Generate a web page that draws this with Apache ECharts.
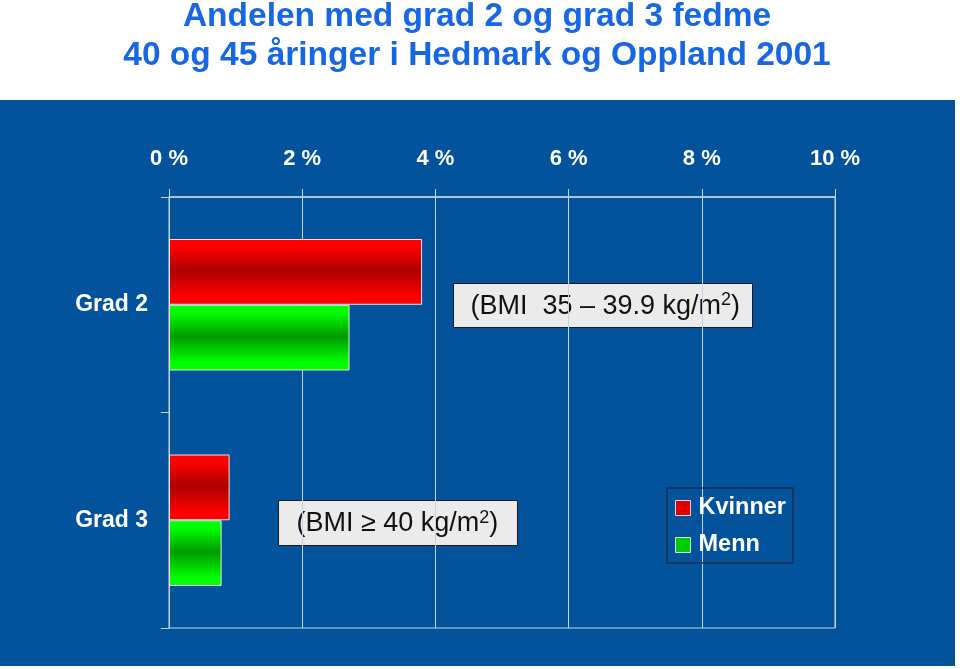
<!DOCTYPE html>
<html>
<head>
<meta charset="utf-8">
<script src="https://cdn.jsdelivr.net/npm/echarts@6/dist/echarts.min.js"></script>
<style>html,body{margin:0;padding:0;background:#fff}#c{width:960px;height:669px}</style>
</head>
<body>
<div id="c"></div>
<script>
var titleLines = ['Andelen med grad 2 og grad 3 fedme', '40 og 45 åringer i Hedmark og Oppland 2001'];
var categories = ['Grad 2', 'Grad 3'];
var seriesNames = ['Kvinner', 'Menn'];
var kvinner = [3.80, 0.91];
var menn = [2.71, 0.79];
var xMin = 0, xMax = 10, xStep = 2;
var note1 = ['(BMI  35 – 39.9 kg/m', '2', ')'];
var note2 = ['(BMI ≥ 40 kg/m', '2', ')'];

var FONT = '"Liberation Sans", Arial, Helvetica, sans-serif';
var LINE = '#c4d4e6';

function grad(edge, mid) {
  return new echarts.graphic.LinearGradient(0, 0, 0, 1, [
    {offset: 0, color: edge}, {offset: 0.12, color: edge},
    {offset: 0.48, color: mid},
    {offset: 0.88, color: edge}, {offset: 1, color: edge}
  ]);
}

function noteBox(x, y, w, h, parts, tx) {
  return {
    type: 'group', left: x, top: y, z: 50,
    children: [
      {type: 'rect', shape: {x: 0, y: 0, width: w, height: h},
       style: {fill: '#ebebeb', stroke: '#1a1a1a', lineWidth: 1}},
      {type: 'text', x: tx, y: h / 2 + 1,
       style: {
         text: '{a|' + parts[0] + '}{s|' + parts[1] + '}{a|' + parts[2] + '}',
         textVerticalAlign: 'middle', textAlign: 'left',
         rich: {
           a: {fontFamily: FONT, fontSize: 27, lineHeight: 30, fill: '#111', color: '#111'},
           s: {fontFamily: FONT, fontSize: 18, lineHeight: 12, verticalAlign: 'top', fill: '#111', color: '#111'}
         }
       }}
    ]
  };
}

var chart = echarts.init(document.getElementById('c'), null, {renderer: 'canvas'});
chart.setOption({
  animation: false,
  backgroundColor: '#ffffff',
  title: {
    text: titleLines.join('\n'),
    left: 477, top: -3, padding: 0, textAlign: 'center',
    textStyle: {fontFamily: FONT, fontSize: 33.5, fontWeight: 'bold', color: '#1766e4', lineHeight: 39}
  },
  graphic: [
    {type: 'rect', left: 0, top: 100, z: -10, silent: true,
     shape: {width: 955, height: 566}, style: {fill: '#03539c'}},
    noteBox(453, 283, 299, 44, note1, 17),
    noteBox(278, 500, 239, 45, note2, 18)
  ],
  legend: {
    orient: 'vertical', left: 667, top: 488,
    padding: [8, 7, 6, 8], itemGap: 13,
    itemWidth: 15, itemHeight: 15, icon: 'rect',
    borderColor: '#1c2c52', borderWidth: 1.5,
    textStyle: {fontFamily: FONT, fontSize: 23.5, fontWeight: 'bold', color: '#ffffff', padding: [0, 0, 0, 3]},
    data: [
      {name: seriesNames[0], itemStyle: {color: '#e00000', borderColor: '#dddddd', borderWidth: 1}},
      {name: seriesNames[1], itemStyle: {color: '#00cc00', borderColor: '#dddddd', borderWidth: 1}}
    ]
  },
  grid: {left: 169, right: 125, top: 197, bottom: 41, show: true, borderColor: LINE, borderWidth: 1, backgroundColor: 'transparent'},
  xAxis: {
    type: 'value', position: 'top', min: xMin, max: xMax, interval: xStep,
    axisLine: {show: true, lineStyle: {color: LINE, width: 1.5}},
    axisTick: {show: true, length: 8, lineStyle: {color: LINE}},
    splitLine: {show: true, lineStyle: {color: LINE, width: 1}},
    axisLabel: {formatter: '{value} %', margin: 27, fontFamily: FONT, fontSize: 22, fontWeight: 'bold', color: '#ffffff'}
  },
  yAxis: {
    type: 'category', inverse: true, data: categories,
    axisLine: {show: true, lineStyle: {color: LINE, width: 1}},
    axisTick: {show: true, length: 8, lineStyle: {color: LINE}},
    axisLabel: {margin: 21, fontFamily: FONT, fontSize: 23, fontWeight: 'bold', color: '#ffffff', padding: [4, 0, 0, 0]}
  },
  series: [
    {name: seriesNames[0], type: 'bar', data: kvinner, barGap: '0%', barCategoryGap: '39%',
     itemStyle: {color: grad('#ff0000', '#ad0000'), borderColor: '#e6e6e6', borderWidth: 1}},
    {name: seriesNames[1], type: 'bar', data: menn, barGap: '0%', barCategoryGap: '39%',
     itemStyle: {color: grad('#00ff00', '#009a00'), borderColor: '#e6e6e6', borderWidth: 1}}
  ]
});
</script>
</body>
</html>
